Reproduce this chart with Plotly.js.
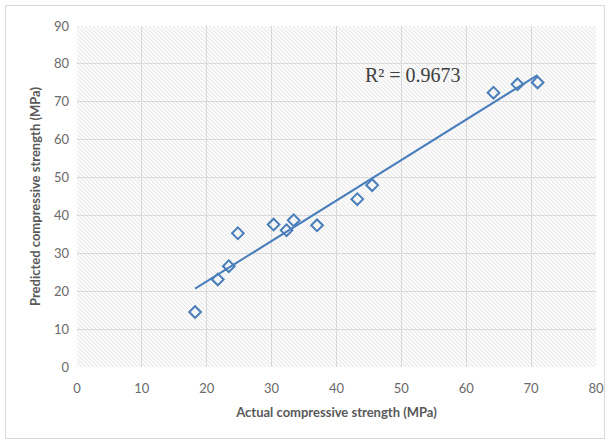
<!DOCTYPE html>
<html><head><meta charset="utf-8">
<script src="https://cdn.plot.ly/plotly-3.0.1.min.js"></script>
<style>
html,body{margin:0;padding:0;background:#fff;}
#wrap{position:relative;width:612px;height:443px;}
#frame{position:absolute;left:5px;top:5px;width:600px;height:434px;border:1px solid #d9d9d9;box-sizing:border-box;pointer-events:none;}
#chart{position:absolute;left:0;top:0;width:612px;height:443px;}
</style></head>
<body><div id="wrap"><div id="chart"></div><div id="frame"></div></div>
<script>
const actual = [18.2, 21.7, 23.4, 24.8, 30.3, 32.3, 33.4, 37.0, 43.2, 45.5, 64.2, 67.9, 71.0];
const predicted = [14.5, 23.1, 26.6, 35.3, 37.6, 36.1, 38.7, 37.4, 44.3, 48.0, 72.4, 74.6, 75.1];
const r2Label = "R² = 0.9673";
const xTitle = "Actual compressive strength (MPa)";
const yTitle = "Predicted compressive strength (MPa)";

// least squares trendline
const n = actual.length;
const mx = actual.reduce((a,b)=>a+b,0)/n, my = predicted.reduce((a,b)=>a+b,0)/n;
let sxy=0, sxx=0;
for(let i=0;i<n;i++){sxy+=(actual[i]-mx)*(predicted[i]-my); sxx+=(actual[i]-mx)**2;}
const slope = sxy/sxx, icpt = my - slope*mx;
const xmin = Math.min(...actual), xmax = Math.max(...actual);
const trendX = [xmin, xmax], trendY = trendX.map(v=>icpt+slope*v);

const W=519, H=341;
const svg = `<svg xmlns='http://www.w3.org/2000/svg' width='${W}' height='${H}'><defs><pattern id='p' width='4' height='4' patternUnits='userSpaceOnUse'><rect width='4' height='4' fill='#fbfbfb'/><path d='M-1,-1 L5,5 M-1,3 L1,5 M3,-1 L5,1' stroke='#e6e6e6' stroke-width='1'/></pattern></defs><rect width='${W}' height='${H}' fill='url(#p)'/></svg>`;
const src = 'data:image/svg+xml;charset=utf-8,' + encodeURIComponent(svg);

const blue = '#4a7ebb';
const data = [
  {x: trendX, y: trendY, mode:'lines', line:{color:blue, width:2}, hoverinfo:'skip'},
  {x: actual, y: predicted, mode:'markers', marker:{symbol:'diamond-open', size:9, color:blue, line:{width:2, color:blue}}}
];
const tickFont = {family:'Lato, "Open Sans", sans-serif', size:13, color:'#6a6a6a'};
const titleFont = {family:'Lato, "Open Sans", sans-serif', size:13, color:'#595959', weight:'bold'};
const layout = {
  width:612, height:443, showlegend:false,
  paper_bgcolor:'rgba(0,0,0,0)', plot_bgcolor:'rgba(0,0,0,0)',
  margin:{l:77, r:16, t:26, b:76},
  xaxis:{range:[0,80], dtick:10, tick0:0, showgrid:true, gridcolor:'#d9d9d9', gridwidth:1, zeroline:false, showline:false,
    ticks:'', ticklabelstandoff:12, tickfont:tickFont, title:{text:xTitle, font:titleFont, standoff:12}},
  yaxis:{range:[0,90], dtick:10, tick0:0, showgrid:true, gridcolor:'#d9d9d9', gridwidth:1, zeroline:false, showline:false,
    ticks:'', ticklabelstandoff:7, tickfont:tickFont, title:{text:yTitle, font:titleFont, standoff:10}},
  images:[{source:src, xref:'paper', yref:'paper', x:0, y:1, sizex:1, sizey:1, sizing:'stretch', layer:'below', xanchor:'left', yanchor:'top'}],
  annotations:[{x:51.8, y:77.2, xref:'x', yref:'y', text:r2Label, showarrow:false, font:{family:'"Liberation Serif", "Times New Roman", serif', size:20, color:'#404040'}}]
};
Plotly.newPlot('chart', data, layout, {displayModeBar:false, staticPlot:true});
</script></body></html>
